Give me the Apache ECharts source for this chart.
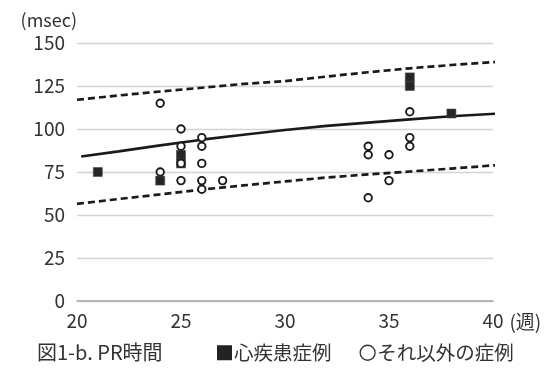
<!DOCTYPE html>
<html>
<head>
<meta charset="utf-8">
<script src="https://cdn.jsdelivr.net/npm/echarts@6/dist/echarts.min.js"></script>
<style>
  html, body { margin: 0; padding: 0; background: #fff; }
  #chart { width: 560px; height: 369px; }
</style>
</head>
<body>
<div id="chart"></div>
<script>
// PR interval (msec) by gestational week
const weekTicks = [20, 25, 30, 35, 40];
const msecTicks = [0, 25, 50, 75, 100, 125, 150];

// cases with heart disease
const heartWeeks = [21, 24, 25, 25, 36, 36, 38];
const heartPR    = [75, 70, 85, 80, 130, 125, 109];

// other cases
const otherWeeks = [24, 24, 25, 25, 25, 25, 26, 26, 26, 26, 26, 27, 34, 34, 34, 35, 35, 36, 36, 36];
const otherPR    = [115, 75, 100, 90, 80, 70, 95, 90, 80, 70, 65, 70, 90, 85, 60, 85, 70, 110, 95, 90];

// reference curve (mean) and upper / lower bounds
const curveWeeks = [20.2, 22, 24, 26, 28, 30, 32, 34, 36, 38, 40.3];
const meanPR     = [84, 87, 90.5, 93.8, 96.7, 99.4, 101.8, 103.7, 105.6, 107.4, 109];
const boundWeeks = [20, 22, 24, 26, 28, 30, 32, 34, 36, 38, 40.2];
const upperPR    = [117, 119.5, 121.8, 124, 126.2, 127.8, 130.5, 133, 135.3, 137.2, 139];
const lowerPR    = [56.5, 59.3, 62, 64.8, 67.2, 69.5, 71.8, 73.6, 75.3, 77, 79];

const zip = (xs, ys) => xs.map((x, i) => [x, ys[i]]);

const FONT = '"Noto Sans CJK JP", "Noto Sans", sans-serif';
const INK = '#1a1a1a';

const chart = echarts.init(document.getElementById('chart'));
chart.setOption({
  animation: false,
  backgroundColor: '#fff',
  textStyle: { fontFamily: FONT },
  title: {
    text: '図1-b. PR時間',
    left: 37,
    top: 342,
    padding: 0,
    textStyle: { fontFamily: FONT, fontSize: 20, fontWeight: 'normal', color: '#333' }
  },
  legend: {
    left: 217,
    top: 343,
    padding: 0,
    itemWidth: 15,
    itemHeight: 15,
    itemGap: 28,
    textStyle: { fontFamily: FONT, fontSize: 19.5, color: '#333', padding: [0, 0, 0, -3] },
    data: [
      { name: '心疾患症例', icon: 'rect', itemStyle: { color: '#222', borderWidth: 0, opacity: 1 } },
      { name: 'それ以外の症例', icon: 'circle', itemStyle: { color: '#fff', borderColor: '#333', borderWidth: 1.3, opacity: 1 } }
    ]
  },
  grid: { left: 77, right: 67, top: 43, bottom: 68 },
  xAxis: {
    type: 'value',
    min: weekTicks[0],
    max: weekTicks[weekTicks.length - 1],
    interval: 5,
    name: '(週)',
    nameLocation: 'end',
    nameGap: 12,
    nameTextStyle: { fontFamily: FONT, fontSize: 19, color: '#333', verticalAlign: 'top', padding: [11, 0, 0, 0] },
    axisLine: { show: true, lineStyle: { color: '#a8a8a8', width: 1.6 } },
    axisTick: { show: false },
    splitLine: { show: false },
    axisLabel: { fontFamily: FONT, fontSize: 19, color: '#333', margin: 10 }
  },
  yAxis: {
    type: 'value',
    min: msecTicks[0],
    max: msecTicks[msecTicks.length - 1],
    interval: 25,
    name: '(msec)',
    nameLocation: 'end',
    nameGap: 14,
    nameTextStyle: { fontFamily: FONT, fontSize: 18, color: '#333', align: 'right' },
    axisLine: { show: false },
    axisTick: { show: false },
    splitLine: { show: true, lineStyle: { color: '#d4d4d4', width: 1.4 } },
    axisLabel: { fontFamily: FONT, fontSize: 19, color: '#333', margin: 12 }
  },
  series: [
    {
      type: 'line',
      name: 'mean',
      data: zip(curveWeeks, meanPR),
      showSymbol: false,
      clip: false,
      lineStyle: { color: INK, width: 2.6 },
      z: 1
    },
    {
      type: 'line',
      name: 'upper',
      data: zip(boundWeeks, upperPR),
      showSymbol: false,
      clip: false,
      lineStyle: { color: INK, width: 2.7, type: [7, 4] },
      z: 1
    },
    {
      type: 'line',
      name: 'lower',
      data: zip(boundWeeks, lowerPR),
      showSymbol: false,
      clip: false,
      lineStyle: { color: INK, width: 2.7, type: [7, 4] },
      z: 1
    },
    {
      type: 'scatter',
      name: '心疾患症例',
      data: zip(heartWeeks, heartPR),
      symbol: 'rect',
      symbolSize: 9,
      itemStyle: { color: '#262626', borderColor: '#4a4a4a', borderWidth: 0.6, opacity: 1 },
      z: 3
    },
    {
      type: 'scatter',
      name: 'それ以外の症例',
      data: zip(otherWeeks, otherPR),
      symbol: 'circle',
      symbolSize: 7.5,
      itemStyle: { color: '#fff', borderColor: INK, borderWidth: 1.9, opacity: 1 },
      z: 4
    }
  ]
});
</script>
</body>
</html>
